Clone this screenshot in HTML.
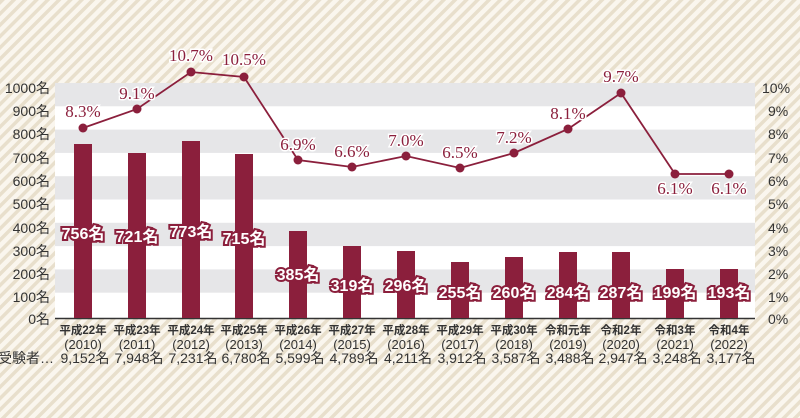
<!DOCTYPE html>
<html><head><meta charset="utf-8"><style>
body{margin:0;width:800px;height:418px;overflow:hidden;}
svg{display:block}
</style></head><body>
<svg width="800" height="418" xmlns="http://www.w3.org/2000/svg" font-family="'Liberation Sans','Noto Sans CJK JP',sans-serif">
<defs>
<pattern id="st" width="8" height="8" patternUnits="userSpaceOnUse" patternTransform="rotate(45)">
<rect width="8" height="8" fill="#faf6ee"/><rect width="3.5" height="8" fill="#e8dfcc"/>
</pattern>
</defs>
<rect width="800" height="418" fill="url(#st)"/>
<g>
<rect x="55" y="83" width="700" height="235" fill="#fff"/>
<rect x="55" y="83" width="700" height="23.3" fill="#e6e6e8"/>
<rect x="55" y="129.6" width="700" height="23.3" fill="#e6e6e8"/>
<rect x="55" y="176.2" width="700" height="23.3" fill="#e6e6e8"/>
<rect x="55" y="222.8" width="700" height="23.3" fill="#e6e6e8"/>
<rect x="55" y="269.4" width="700" height="23.3" fill="#e6e6e8"/>
<line x1="55" y1="318.5" x2="755" y2="318.5" stroke="#333" stroke-width="1.5"/>
</g>
<g font-size="14" fill="#333" text-anchor="end">
<text x="50" y="93">1000名</text><text x="50" y="116">900名</text><text x="50" y="139">800名</text><text x="50" y="163">700名</text><text x="50" y="186">600名</text><text x="50" y="209">500名</text><text x="50" y="233">400名</text><text x="50" y="256">300名</text><text x="50" y="279">200名</text><text x="50" y="302">100名</text><text x="50" y="324">0名</text>
</g>
<g font-size="14" fill="#333" text-anchor="start">
<text x="762" y="93">10%</text><text x="768" y="116">9%</text><text x="768" y="139">8%</text><text x="768" y="163">7%</text><text x="768" y="186">6%</text><text x="768" y="209">5%</text><text x="768" y="233">4%</text><text x="768" y="256">3%</text><text x="768" y="279">2%</text><text x="768" y="302">1%</text><text x="768" y="324">0%</text>
</g>
<g fill="#8b1f3c">
<rect x="74" y="144" width="18" height="174"/>
<rect x="128" y="153" width="18" height="165"/>
<rect x="182" y="141" width="18" height="177"/>
<rect x="235" y="154" width="18" height="164"/>
<rect x="289" y="231" width="18" height="87"/>
<rect x="343" y="246" width="18" height="72"/>
<rect x="397" y="251" width="18" height="67"/>
<rect x="451" y="262" width="18" height="56"/>
<rect x="505" y="257" width="18" height="61"/>
<rect x="559" y="252" width="18" height="66"/>
<rect x="612" y="252" width="18" height="66"/>
<rect x="666" y="269" width="18" height="49"/>
<rect x="720" y="269" width="18" height="49"/>
</g>
<g font-size="16" font-weight="bold" fill="#fff" stroke="#8b1f3c" stroke-width="4" paint-order="stroke" text-anchor="middle">
<text x="83" y="239">756名</text><text x="137" y="242">721名</text><text x="191" y="237">773名</text><text x="244" y="244">715名</text>
<text x="298" y="280">385名</text><text x="352" y="291">319名</text><text x="406" y="291">296名</text><text x="460" y="298">255名</text><text x="514" y="298">260名</text><text x="568" y="298">284名</text><text x="621" y="298">287名</text><text x="675" y="298">199名</text><text x="729" y="298">193名</text>
</g>
<polyline fill="none" stroke="#8b1f3c" stroke-width="1.8" points="83,128 137,109 191,72 244,77 298,160 352,167 406,156 460,168 514,153 568,129 621,93 675,174 729,174"/>
<g fill="#8b1f3c">
<circle cx="83" cy="128" r="4.5"/><circle cx="137" cy="109" r="4.5"/><circle cx="191" cy="72" r="4.5"/><circle cx="244" cy="77" r="4.5"/><circle cx="298" cy="160" r="4.5"/><circle cx="352" cy="167" r="4.5"/><circle cx="406" cy="156" r="4.5"/><circle cx="460" cy="168" r="4.5"/><circle cx="514" cy="153" r="4.5"/><circle cx="568" cy="129" r="4.5"/><circle cx="621" cy="93" r="4.5"/><circle cx="675" cy="174" r="4.5"/><circle cx="729" cy="174" r="4.5"/>
</g>
<g font-family="'Liberation Serif',serif" font-size="17" fill="#8b1f3c" text-anchor="middle" stroke="#fff" stroke-width="3" paint-order="stroke">
<text x="83" y="117">8.3%</text><text x="137" y="99">9.1%</text><text x="191" y="61">10.7%</text><text x="244" y="65">10.5%</text><text x="298" y="150">6.9%</text><text x="352" y="157">6.6%</text><text x="406" y="146">7.0%</text><text x="460" y="158">6.5%</text><text x="514" y="143">7.2%</text><text x="568" y="119">8.1%</text><text x="621" y="82">9.7%</text><text x="675" y="194">6.1%</text><text x="729" y="194">6.1%</text>
</g>
<g font-size="11.5" fill="#333" text-anchor="middle" font-weight="bold">
<text x="83" y="334">平成22年</text><text x="137" y="334">平成23年</text><text x="191" y="334">平成24年</text><text x="244" y="334">平成25年</text><text x="298" y="334">平成26年</text><text x="352" y="334">平成27年</text><text x="406" y="334">平成28年</text><text x="460" y="334">平成29年</text><text x="514" y="334">平成30年</text><text x="568" y="334">令和元年</text><text x="621" y="334">令和2年</text><text x="675" y="334">令和3年</text><text x="729" y="334">令和4年</text>
</g>
<g font-size="13" fill="#333" text-anchor="middle">
<text x="83" y="349">(2010)</text><text x="137" y="349">(2011)</text><text x="191" y="349">(2012)</text><text x="244" y="349">(2013)</text><text x="298" y="349">(2014)</text><text x="352" y="349">(2015)</text><text x="406" y="349">(2016)</text><text x="460" y="349">(2017)</text><text x="514" y="349">(2018)</text><text x="568" y="349">(2019)</text><text x="621" y="349">(2020)</text><text x="675" y="349">(2021)</text><text x="729" y="349">(2022)</text>
</g>
<g font-size="14" fill="#333" text-anchor="middle">
<text x="26" y="363">受験者…</text>
<text x="85" y="363">9,152名</text><text x="139" y="363">7,948名</text><text x="193" y="363">7,231名</text><text x="246" y="363">6,780名</text><text x="300" y="363">5,599名</text><text x="354" y="363">4,789名</text><text x="408" y="363">4,211名</text><text x="462" y="363">3,912名</text><text x="516" y="363">3,587名</text><text x="570" y="363">3,488名</text><text x="623" y="363">2,947名</text><text x="677" y="363">3,248名</text><text x="731" y="363">3,177名</text>
</g>
</svg>
</body></html>
